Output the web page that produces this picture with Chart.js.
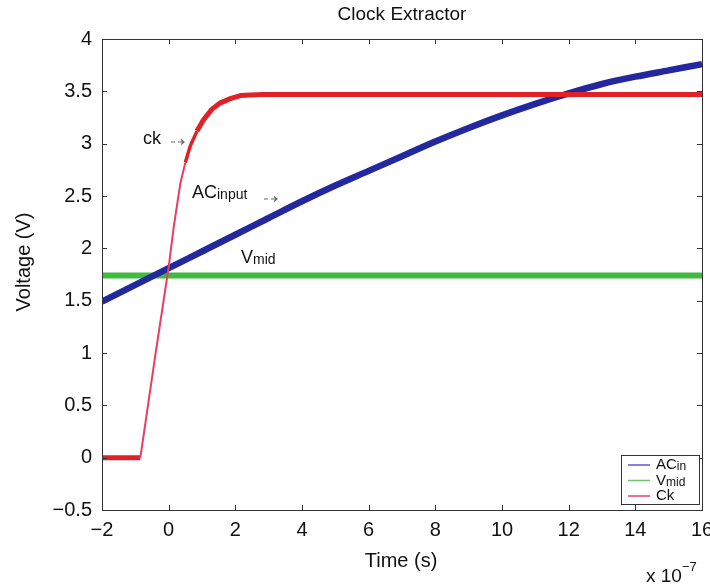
<!DOCTYPE html>
<html>
<head>
<meta charset="utf-8">
<title>Clock Extractor</title>
<script src="https://cdn.jsdelivr.net/npm/chart.js@4.4.1/dist/chart.umd.min.js"></script>
<style>
  body { margin: 0; background: #fff; }
  #wrap { width: 710px; height: 587px; }
</style>
</head>
<body>
<div id="wrap"><canvas id="chart"></canvas></div>
<script>
// Time is in units of 1e-7 s (the "x 10^-7" factor is printed under the axis)
const xTicks = [-2, 0, 2, 4, 6, 8, 10, 12, 14, 16];
const yTicks = [-0.5, 0, 0.5, 1, 1.5, 2, 2.5, 3, 3.5, 4];

// ACin - slow rising input
const acinTime = [-2, -1, 0, 1, 2, 3, 4, 5, 6, 7, 8, 9, 10, 11, 12, 13, 14, 15, 16];
const acinVolt = [1.49, 1.65, 1.81, 1.97, 2.13, 2.29, 2.45, 2.60, 2.74, 2.88, 3.02, 3.15, 3.27, 3.38, 3.48, 3.57, 3.64, 3.70, 3.76];

// Vmid - flat reference level
const vmidTime = [-2, 0, 2, 4, 6, 8, 10, 12, 14, 16];
const vmidVolt = [1.74, 1.74, 1.74, 1.74, 1.74, 1.74, 1.74, 1.74, 1.74, 1.74];

// Ck - extracted clock edge
const ckTime = [-2, -1.5, -1, -0.85, -0.4, 0, 0.15, 0.35, 0.5, 0.65, 0.85, 1.05, 1.3, 1.55, 1.85, 2.15, 2.8, 4, 6, 8, 10, 12, 14, 16];
const ckVolt = [0, 0, 0, 0, 0.98, 1.82, 2.2, 2.62, 2.82, 2.98, 3.12, 3.23, 3.33, 3.39, 3.43, 3.46, 3.47, 3.47, 3.47, 3.47, 3.47, 3.47, 3.47, 3.47];

const FONT = 'Arial, "Liberation Sans", Helvetica, sans-serif';

function toPoints(xs, ys) {
    return xs.map((x, i) => ({ x: x, y: ys[i] }));
}

function minusSign(v) {
    return String(v).replace('-', '\u2212');
}

function slopeOf(c) {
    return Math.abs((c.p1.parsed.y - c.p0.parsed.y) / (c.p1.parsed.x - c.p0.parsed.x));
}

// inward ticks on all four sides + full box, title, axis labels, notes, legend
const decorPlugin = {
    id: 'decor',
    afterDatasetsDraw(chart) {
        const ctx = chart.ctx;
        const a = chart.chartArea;
        const xs = chart.scales.x, ys = chart.scales.y;
        ctx.save();
        ctx.strokeStyle = '#333';
        ctx.lineWidth = 1;
        ctx.beginPath();
        xTicks.forEach(t => {
            const px = Math.round(xs.getPixelForValue(t)) + 0.5;
            ctx.moveTo(px, a.bottom); ctx.lineTo(px, a.bottom - 5);
            ctx.moveTo(px, a.top); ctx.lineTo(px, a.top + 5);
        });
        yTicks.forEach(t => {
            const py = Math.round(ys.getPixelForValue(t)) + 0.5;
            ctx.moveTo(a.left, py); ctx.lineTo(a.left + 5, py);
            ctx.moveTo(a.right, py); ctx.lineTo(a.right - 5, py);
        });
        ctx.stroke();
        ctx.strokeRect(Math.round(a.left) + 0.5, Math.round(a.top) + 0.5,
            Math.round(a.right - a.left), Math.round(a.bottom - a.top));
        ctx.restore();
    },
    afterDraw(chart) {
        const ctx = chart.ctx;
        const a = chart.chartArea;
        ctx.save();
        ctx.fillStyle = '#111';
        ctx.textBaseline = 'middle';

        // title
        ctx.textAlign = 'center';
        ctx.font = '19px ' + FONT;
        ctx.fillText('Clock Extractor', (a.left + a.right) / 2, 15);

        // axis titles
        ctx.font = '20px ' + FONT;
        ctx.fillText('Time (s)', 401, 561);
        ctx.save();
        ctx.translate(24, 262);
        ctx.rotate(-Math.PI / 2);
        ctx.fillText('Voltage (V)', 0, 0);
        ctx.restore();

        // exponent note
        ctx.textAlign = 'left';
        ctx.font = '19px ' + FONT;
        ctx.fillText('x 10', 646, 577);
        const ew = ctx.measureText('x 10').width;
        ctx.font = '13px ' + FONT;
        ctx.fillText('\u22127', 646 + ew, 567);

        // curve notes
        const note = (main, sub, px, py) => {
            ctx.font = '18px ' + FONT;
            ctx.fillStyle = '#111';
            ctx.fillText(main, px, py);
            let w = ctx.measureText(main).width;
            if (sub) {
                ctx.font = '14px ' + FONT;
                ctx.fillText(sub, px + w, py + 2);
                w += ctx.measureText(sub).width;
            }
            return px + w;
        };
        const arrow = (px, py) => {
            ctx.strokeStyle = '#666';
            ctx.lineWidth = 1.2;
            ctx.beginPath();
            ctx.moveTo(px, py); ctx.lineTo(px + 4, py);
            ctx.moveTo(px + 7, py); ctx.lineTo(px + 13, py);
            ctx.moveTo(px + 10, py - 2.5); ctx.lineTo(px + 13, py); ctx.lineTo(px + 10, py + 2.5);
            ctx.stroke();
        };
        note('ck', '', 143, 139);
        arrow(171, 142);
        note('AC', 'input', 192, 193);
        arrow(264, 199);
        note('V', 'mid', 241, 258);

        // legend box
        const lx = 621, ly = 455, lw = 78, lh = 49;
        ctx.fillStyle = '#fff';
        ctx.fillRect(lx, ly, lw, lh);
        ctx.strokeStyle = '#333';
        ctx.lineWidth = 1;
        ctx.strokeRect(lx + 0.5, ly + 0.5, lw, lh);
        const rows = [
            { main: 'AC', sub: 'in', color: '#5a5ad2' },
            { main: 'V', sub: 'mid', color: '#6cc46c' },
            { main: 'Ck', sub: '', color: '#e0407a' }
        ];
        rows.forEach((r, i) => {
            const ry = ly + 10 + i * 15.5;
            ctx.strokeStyle = r.color;
            ctx.lineWidth = 1.5;
            ctx.beginPath();
            ctx.moveTo(lx + 7, ry); ctx.lineTo(lx + 29, ry);
            ctx.stroke();
            ctx.fillStyle = '#111';
            ctx.font = '15px ' + FONT;
            ctx.fillText(r.main, lx + 35, ry);
            const w = ctx.measureText(r.main).width;
            if (r.sub) {
                ctx.font = '12px ' + FONT;
                ctx.fillText(r.sub, lx + 35 + w, ry + 2);
            }
        });
        ctx.restore();
    }
};

const ctx = document.getElementById('chart');

new Chart(ctx, {
    type: 'line',
    data: {
        datasets: [
            {
                label: 'ACin',
                data: toPoints(acinTime, acinVolt),
                borderColor: 'rgb(36, 40, 158)',
                borderWidth: 6.5,
                pointRadius: 0,
                cubicInterpolationMode: 'monotone',
                order: 1
            },
            {
                label: 'Vmid',
                data: toPoints(vmidTime, vmidVolt),
                borderColor: 'rgb(64, 186, 64)',
                borderWidth: 6,
                pointRadius: 0,
                order: 2
            },
            {
                label: 'Ck',
                data: toPoints(ckTime, ckVolt),
                borderColor: 'rgb(226, 32, 40)',
                borderWidth: 5,
                pointRadius: 0,
                tension: 0,
                borderJoinStyle: 'round',
                order: 0,
                segment: {
                    // the fast edge is drawn as a thin pink trace
                    borderWidth: c => {
                        const s = slopeOf(c);
                        return s > 1.1 ? 2 : (s > 0.6 ? 3.5 : 5);
                    },
                    borderColor: c => slopeOf(c) > 1.1 ? 'rgb(232, 60, 96)' : 'rgb(226, 32, 40)'
                }
            }
        ]
    },
    options: {
        responsive: true,
        maintainAspectRatio: false,
        animation: false,
        layout: {
            padding: { top: 39, right: 8, left: 0, bottom: 0 }
        },
        plugins: {
            legend: { display: false },
            title: { display: false },
            tooltip: { enabled: false }
        },
        scales: {
            x: {
                type: 'linear',
                min: -2,
                max: 16,
                afterBuildTicks: scale => { scale.ticks = xTicks.map(v => ({ value: v })); },
                afterFit: scale => { scale.height = 77; scale.paddingLeft = 0; scale.paddingRight = 0; },
                grid: { display: false, drawTicks: false },
                border: { display: false },
                ticks: {
                    padding: 8,
                    color: '#111',
                    font: { family: FONT, size: 20 },
                    callback: v => minusSign(v)
                }
            },
            y: {
                type: 'linear',
                min: -0.5,
                max: 4,
                afterBuildTicks: scale => { scale.ticks = yTicks.map(v => ({ value: v })); },
                afterFit: scale => { scale.width = 102; scale.paddingTop = 0; scale.paddingBottom = 0; },
                grid: { display: false, drawTicks: false },
                border: { display: false },
                ticks: {
                    padding: 10,
                    color: '#111',
                    font: { family: FONT, size: 20 },
                    callback: v => minusSign(v)
                }
            }
        }
    },
    plugins: [decorPlugin]
});
</script>
</body>
</html>
